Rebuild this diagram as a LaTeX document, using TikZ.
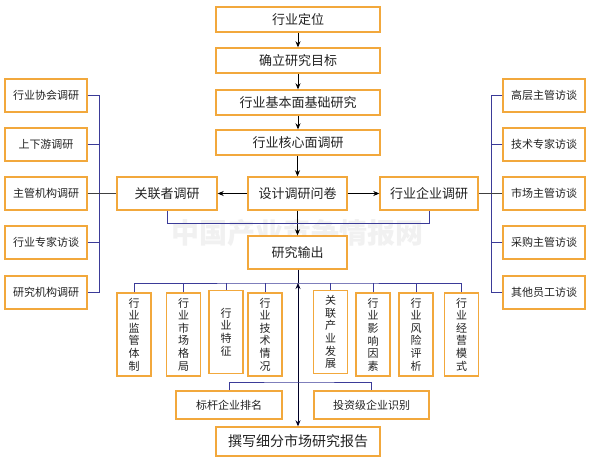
\documentclass[tikz,border=0pt]{standalone}
\usepackage{fontspec}
\setmainfont{Noto Sans CJK SC}
\usetikzlibrary{arrows.meta}
\definecolor{boxor}{HTML}{F2A83C}
\definecolor{busblue}{HTML}{3B3B98}
\definecolor{txt}{HTML}{222222}
\tikzset{
  box/.style={draw=boxor, line width=1.4pt, fill=white, text=txt, inner sep=0pt, align=center},
  cbox/.style={box, minimum width=164pt, minimum height=25pt, font=\fontsize{13}{15}\selectfont},
  mbox/.style={box, minimum height=33pt, font=\fontsize{13}{15}\selectfont},
  sbox/.style={box, minimum width=82pt, minimum height=33pt, font=\fontsize{11}{13}\selectfont},
  vbox/.style={box, minimum width=34pt, minimum height=83pt, font=\fontsize{11}{12.6}\selectfont},
  arr/.style={black, line width=0.7pt, -{Stealth[length=6pt,width=5pt]}},
  bus/.style={busblue, line width=0.9pt},
  dline/.style={black!75, line width=0.7pt}
}
\begin{document}
\begin{tikzpicture}[x=1pt,y=-1pt]
\useasboundingbox (0,0) rectangle (592,463);
\fill[white] (0,0) rectangle (592,463);
% watermark
\node[text=gray!11, font=\fontsize{28}{30}\selectfont\bfseries] (wm) at (297,233) {中国产业竞争情报网};

% center column
\node[cbox] (n1) at (298,19.5) {行业定位};
\node[cbox] (n2) at (298,60.5) {确立研究目标};
\node[cbox] (n3) at (298,102.5) {行业基本面基础研究};
\node[cbox] (n4) at (298,142.5) {行业核心面调研};
\node[mbox, minimum width=99pt] (des) at (297.5,193.5) {设计调研问卷};
\node[mbox, minimum width=99pt] (out) at (297.5,252.5) {研究输出};
\node[mbox, minimum width=100pt] (rel) at (167,193.5) {关联者调研};
\node[mbox, minimum width=98pt] (ent) at (429,193.5) {行业企业调研};

% left column
\node[sbox] (l1) at (46,95.5) {行业协会调研};
\node[sbox] (l2) at (46,144.5) {上下游调研};
\node[sbox] (l3) at (46,193.5) {主管机构调研};
\node[sbox] (l4) at (46,242.5) {行业专家访谈};
\node[sbox] (l5) at (46,292.5) {研究机构调研};

% right column
\node[sbox] (r1) at (544,95.5) {高层主管访谈};
\node[sbox] (r2) at (544,144.5) {技术专家访谈};
\node[sbox] (r3) at (544,193.5) {市场主管访谈};
\node[sbox] (r4) at (544,242.5) {采购主管访谈};
\node[sbox] (r5) at (544,292.5) {其他员工访谈};

% bottom vertical boxes
\node[vbox] (b1) at (134,334.5) {行\\业\\监\\管\\体\\制};
\node[vbox] (b2) at (183.5,334.5) {行\\业\\市\\场\\格\\局};
\node[vbox] (b3) at (226,332) {行\\业\\特\\征};
\node[vbox] (b4) at (265,334.5) {行\\业\\技\\术\\情\\况};
\node[vbox] (b5) at (330.5,332) {关\\联\\产\\业\\发\\展};
\node[vbox] (b6) at (373,334.5) {行\\业\\影\\响\\因\\素};
\node[vbox] (b7) at (416,334.5) {行\\业\\风\\险\\评\\析};
\node[vbox] (b8) at (461.5,334.5) {行\\业\\经\\营\\模\\式};

% second row
\node[box, minimum width=106pt, minimum height=28pt, font=\fontsize{11}{13}\selectfont] (k1) at (229,405) {标杆企业排名};
\node[box, minimum width=115pt, minimum height=28pt, font=\fontsize{11}{13}\selectfont] (k2) at (371.5,405) {投资级企业识别};
\node[cbox, minimum height=29pt, font=\fontsize{14}{16}\selectfont] (rep) at (298,441.5) {撰写细分市场研究报告};

% coordinates
\coordinate (lbx) at (99,0);
\coordinate (rbx) at (491,0);
\coordinate (busC) at (298,283);
\coordinate (bus2) at (298,382);

% center arrows
\draw[arr] (n1) -- (n2);
\draw[arr] (n2) -- (n3);
\draw[arr] (n3) -- (n4);
\draw[arr] (n4.south -| des.north) -- (des.north);
\draw[arr] (des) -- (out);
\draw[arr] (des) -- (rel);
\draw[arr] (des) -- (ent);

% left bus
\draw[bus] (l1.east) -- (l1.east -| lbx) -- (l5.east -| lbx) -- (l5.east);
\draw[bus] (l2.east) -- (l2.east -| lbx);
\draw[bus] (l4.east) -- (l4.east -| lbx);
\draw[dline] (l3.east) -- (rel.west);

% right bus
\draw[bus] (r1.west) -- (r1.west -| rbx) -- (r5.west -| rbx) -- (r5.west);
\draw[bus] (r2.west) -- (r2.west -| rbx);
\draw[bus] (r4.west) -- (r4.west -| rbx);
\draw[dline] (ent.east) -- (r3.west);

% blue link under rel/ent
\draw[bus] (rel.south) -- ++(0,13) -| (ent.south);

% bottom bus
\draw[bus] (b1.north) |- (busC) -| (b8.north);
\foreach \b in {b2,b3,b4,b5,b6,b7} \draw[bus] (\b.north) -- (\b.north |- busC);
\draw[black!85!blue, line width=0.8pt] (out.south -| busC) -- (busC);
\draw[black!85!blue, line width=0.8pt, {Stealth[length=6pt,width=5pt]}-{Stealth[length=6pt,width=5pt]}] (busC) -- (rep.north -| busC);

% second bus
\draw[bus] (k1.north) |- (bus2) -| (k2.north);
\end{tikzpicture}
\end{document}
